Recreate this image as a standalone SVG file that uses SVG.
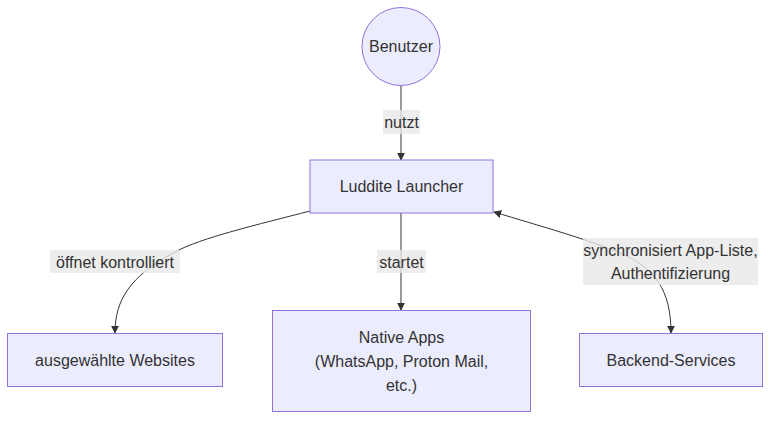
<svg xmlns="http://www.w3.org/2000/svg" width="778" height="424" viewBox="0 0 778 424">
<style>
.node{fill:#ECECFF;stroke:#9370DB;stroke-width:1}
.t{font-family:"Liberation Sans",Arial,sans-serif;font-size:16px;fill:#333333;text-anchor:middle}
.edge{fill:none;stroke:#333333;stroke-width:1}
.lbl{fill:#e8e8e8;opacity:0.8}
</style>
<defs>
<marker id="ah" viewBox="0 0 10 10" refX="9" refY="5" markerWidth="8" markerHeight="8" markerUnits="userSpaceOnUse" orient="auto-start-reverse">
<path d="M0,0 L10,5 L0,10 z" fill="#333333"/>
</marker>
</defs>
<rect width="778" height="424" fill="#ffffff"/>
<g id="connectors">
<path class="edge" d="M401,86 L401,160" marker-end="url(#ah)"/>
<path class="edge" d="M310,211 C260,224 200,238 175,252 C130,276 115,300 115,333" marker-end="url(#ah)"/>
<path class="edge" d="M401,213 L401,310" marker-end="url(#ah)"/>
<path class="edge" d="M494,212 C540,226 590,240 620,253 C655,268 671,290 671,333" marker-start="url(#ah)" marker-end="url(#ah)"/>
<g id="edge-labels">
<rect class="lbl" x="383" y="110" width="37" height="24"/>
<text class="t" x="401.5" y="127.5">nutzt</text>
<rect class="lbl" x="50" y="250" width="130" height="23"/>
<text class="t" x="115" y="267.5">öffnet kontrolliert</text>
<rect class="lbl" x="377" y="250" width="49" height="23"/>
<text class="t" x="401.5" y="267.5">startet</text>
<rect class="lbl" x="583" y="238" width="175" height="47"/>
<text class="t" x="670.5" y="255.5">synchronisiert App-Liste,</text>
<text class="t" x="670.5" y="278.5">Authentifizierung</text>
</g>
</g>
<g id="benutzer">
<circle class="node" cx="401" cy="46.5" r="39"/>
<text class="t" x="401" y="52">Benutzer</text>
</g>
<g id="launcher">
<rect class="node" x="310" y="160" width="183" height="53"/>
<text class="t" x="401.5" y="192">Luddite Launcher</text>
</g>
<g id="websites">
<rect class="node" x="7.5" y="333.5" width="215" height="53"/>
<text class="t" x="115" y="365.5">ausgewählte Websites</text>
</g>
<g id="native">
<rect class="node" x="272.5" y="310.5" width="258" height="101"/>
<text class="t" x="401.5" y="342.5">Native Apps</text>
<text class="t" x="401.5" y="366.5">(WhatsApp, Proton Mail,</text>
<text class="t" x="401.5" y="390.5">etc.)</text>
</g>
<g id="backend">
<rect class="node" x="579.5" y="333.5" width="183" height="53"/>
<text class="t" x="671" y="365.5">Backend-Services</text>
</g>
</svg>
